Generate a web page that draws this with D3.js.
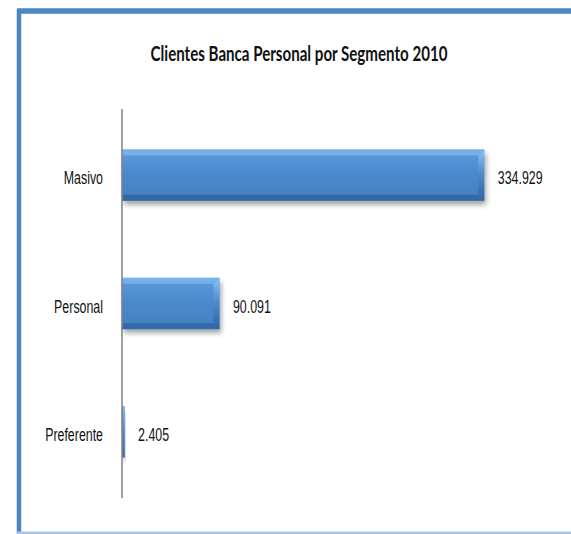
<!DOCTYPE html>
<html>
<head>
<meta charset="utf-8">
<script src="https://cdn.jsdelivr.net/npm/d3@7"></script>
<style>
  html, body { margin: 0; padding: 0; background: #ffffff; }
  svg { display: block; }
</style>
</head>
<body>
<svg id="chart" width="571" height="534"></svg>
<script>
// Chart data
const title = "Clientes Banca Personal por Segmento 2010";
const categories = ["Masivo", "Personal", "Preferente"];
const clientes = [334929, 90091, 2405];
const xMax = 360000;

const W = 571, H = 534;
const svg = d3.select("#chart");

// Horizontal squeeze applied to all text (narrow lettering)
const squeeze = 0.67;

const fmt = d3.formatLocale({ decimal: ",", thousands: ".", grouping: [3], currency: ["$", ""] }).format(",d");

const defs = svg.append("defs");

// Bar body gradient (top to bottom)
const grad = defs.append("linearGradient").attr("id", "barBody")
  .attr("x1", 0).attr("y1", 0).attr("x2", 0).attr("y2", 1);
[[0, "#5a9bdb"], [0.5, "#4a88cc"], [1, "#427fc2"]].forEach(([o, c]) =>
  grad.append("stop").attr("offset", o).attr("stop-color", c));

// Right-end facet gradient (light at top, dark at bottom)
const gradR = defs.append("linearGradient").attr("id", "barEnd")
  .attr("x1", 0).attr("y1", 0).attr("x2", 0).attr("y2", 1);
[[0, "#8cc2f0"], [0.45, "#4f8dd0"], [1, "#2f639f"]].forEach(([o, c]) =>
  gradR.append("stop").attr("offset", o).attr("stop-color", c));

// Soft drop shadow under each bar
const shadow = defs.append("filter").attr("id", "barShadow")
  .attr("x", "-10%").attr("y", "-30%").attr("width", "130%").attr("height", "180%");
shadow.append("feGaussianBlur").attr("in", "SourceAlpha").attr("stdDeviation", 2.5).attr("result", "b");
shadow.append("feOffset").attr("in", "b").attr("dx", 2).attr("dy", 4).attr("result", "o");
shadow.append("feComponentTransfer").attr("in", "o").attr("result", "s")
  .append("feFuncA").attr("type", "linear").attr("slope", 0.35);
const merge = shadow.append("feMerge");
merge.append("feMergeNode").attr("in", "s");
merge.append("feMergeNode").attr("in", "SourceGraphic");

// Frame around the chart area
svg.append("line").attr("x1", 17).attr("x2", W + 5).attr("y1", 11).attr("y2", 11)
  .attr("stroke", "#4a86c8").attr("stroke-width", 5.5);
svg.append("line").attr("x1", 19).attr("x2", 19).attr("y1", 9).attr("y2", H + 5)
  .attr("stroke", "#4a86c8").attr("stroke-width", 4.5);
svg.append("line").attr("x1", 17).attr("x2", W + 5).attr("y1", 533).attr("y2", 533)
  .attr("stroke", "#a9c6e6").attr("stroke-width", 3);

// Scales
const x = d3.scaleLinear().domain([0, xMax]).range([122, 511.4]);
const y = d3.scaleBand().domain(categories).range([111, 496])
  .paddingInner(0.6).paddingOuter(0.3);

// Title
svg.append("text")
  .attr("transform", `translate(299,61) scale(0.72,1)`)
  .attr("text-anchor", "middle")
  .attr("font-family", "Lato, 'Open Sans', sans-serif")
  .attr("font-weight", 700)
  .attr("font-size", 21)
  .attr("fill", "#111")
  .text(title);

// Bars with bevelled edges
const data = categories.map((c, i) => ({ cat: c, v: clientes[i] }));
const bars = svg.append("g").selectAll("g.bar").data(data).join("g").attr("class", "bar");

bars.each(function (d) {
  const g = d3.select(this);
  const x0 = x(0), x1 = x(d.v), y0 = y(d.cat), h = y.bandwidth(), y1 = y0 + h;
  const w = x1 - x0;
  const b = Math.min(6, w / 2);
  g.append("rect").attr("x", x0).attr("y", y0).attr("width", w).attr("height", h)
    .attr("fill", "url(#barBody)").attr("filter", "url(#barShadow)");
  // top facet
  g.append("path").attr("d", `M${x0},${y0}L${x1},${y0}L${x1 - b},${y0 + b}L${x0},${y0 + b}Z`)
    .attr("fill", "#7fb7ec").attr("opacity", 0.8);
  // bottom facet
  g.append("path").attr("d", `M${x0},${y1}L${x1},${y1}L${x1 - b},${y1 - b}L${x0},${y1 - b}Z`)
    .attr("fill", "#2f629f").attr("opacity", 0.75);
  // right facet
  g.append("path").attr("d", `M${x1},${y0}L${x1},${y1}L${x1 - b},${y1 - b}L${x1 - b},${y0 + b}Z`)
    .attr("fill", "url(#barEnd)");
});

// Vertical category axis line
const r = y.range();
svg.append("line").attr("x1", 122).attr("x2", 122).attr("y1", r[0] - 2).attr("y2", r[1] + 2)
  .attr("stroke", "#7f7f7f").attr("stroke-width", 1.5);

// Category labels
svg.append("g").selectAll("text").data(data).join("text")
  .attr("transform", d => `translate(103,${y(d.cat) + y.bandwidth() / 2 + 9}) scale(${squeeze},1)`)
  .attr("text-anchor", "end")
  .attr("font-family", "'Liberation Sans', Arial, sans-serif")
  .attr("font-size", 18.5)
  .attr("fill", "#111")
  .text(d => d.cat);

// Value labels
svg.append("g").selectAll("text").data(data).join("text")
  .attr("transform", d => `translate(${x(d.v) + 13.5},${y(d.cat) + y.bandwidth() / 2 + 9}) scale(${squeeze},1)`)
  .attr("text-anchor", "start")
  .attr("font-family", "'Liberation Sans', Arial, sans-serif")
  .attr("font-size", 18.5)
  .attr("fill", "#111")
  .text(d => fmt(d.v));
</script>
</body>
</html>
